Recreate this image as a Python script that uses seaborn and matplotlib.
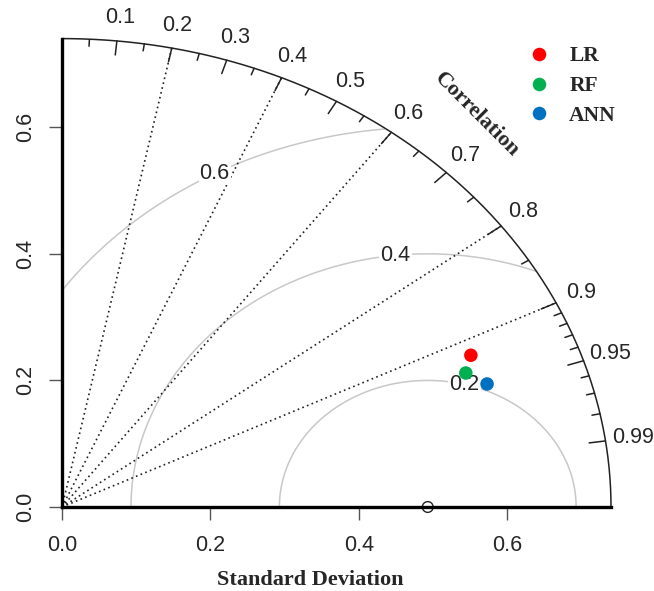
import numpy as np
import pandas as pd
import matplotlib
matplotlib.use("Agg")
import matplotlib.pyplot as plt
import seaborn as sns

# Data
models = ["LR", "RF", "ANN"]
std_devs = [0.601, 0.584, 0.605]
correlations = [0.917, 0.932, 0.947]
colors = ["#FF0000", "#00B050", "#0070C0"]

ref_sd = 0.493
max_sd = 0.74
rms_levels = [0.2, 0.4, 0.6]
corr_lines = [0.2, 0.4, 0.6, 0.8, 0.9]
corr_labels = [0.1, 0.2, 0.3, 0.4, 0.5, 0.6, 0.7, 0.8, 0.9, 0.95, 0.99]
corr_minor = [0.05, 0.15, 0.25, 0.35, 0.45, 0.55, 0.65, 0.75, 0.85,
              0.91, 0.92, 0.93, 0.94, 0.96, 0.97, 0.98]
sd_ticks = [0.0, 0.2, 0.4, 0.6]

SANS = "Liberation Sans"
SERIF = "Liberation Serif"
NUM_SIZE = 15.5

# %% Frame
df = pd.DataFrame({"model": models, "sd": std_devs, "corr": correlations})
df["x"] = df["sd"] * df["corr"]
df["y"] = df["sd"] * np.sqrt(1 - df["corr"] ** 2)

sns.set_style("white")
fig = plt.figure(figsize=(6.54, 5.91), dpi=100)
ax = fig.add_axes([62 / 654, 84 / 591, 549 / 654, 468.4 / 591])
ax.set_xlim(0, max_sd)
ax.set_ylim(0, max_sd)

# %% Grid of the diagram
theta = np.linspace(0, np.pi / 2, 300)
ax.plot(max_sd * np.cos(theta), max_sd * np.sin(theta), color="#222222", lw=1.1,
        clip_on=False, zorder=3)

for c in corr_lines:
    ang = np.arccos(c)
    ax.plot([0, max_sd * np.cos(ang)], [0, max_sd * np.sin(ang)], color="#222222",
            lw=1.2, ls=(0, (1, 2)), zorder=2)

for c in corr_labels:
    ang = np.arccos(c)
    ax.plot([max_sd * np.cos(ang), 0.97 * max_sd * np.cos(ang)],
            [max_sd * np.sin(ang), 0.97 * max_sd * np.sin(ang)], color="#222222", lw=1.1)
    ax.text(1.05 * max_sd * np.cos(ang), 1.05 * max_sd * np.sin(ang), f"{c:g}",
            ha="center", va="center", fontsize=NUM_SIZE, family=SANS, clip_on=False)
for c in corr_minor:
    ang = np.arccos(c)
    ax.plot([max_sd * np.cos(ang), 0.985 * max_sd * np.cos(ang)],
            [max_sd * np.sin(ang), 0.985 * max_sd * np.sin(ang)], color="#222222", lw=1.1)

# RMS arcs around the reference point
phi = np.linspace(0, np.pi, 600)
label_angles = [44 * 0.03, 56 * 0.03, 69 * 0.03]
for g, la in zip(rms_levels, label_angles):
    xs = ref_sd + g * np.cos(phi)
    ys = g * np.sin(phi)
    keep = (xs >= 0) & (xs ** 2 + ys ** 2 <= max_sd ** 2)
    ax.plot(xs[keep], ys[keep], color="#C8C8C8", lw=1.1, zorder=1)
    ax.text(ref_sd + g * np.cos(la), g * np.sin(la), f"{g:g}", ha="center", va="center",
            fontsize=NUM_SIZE, family=SANS, zorder=4,
            bbox=dict(boxstyle="square,pad=0.05", fc="white", ec="none"))

ax.text(0.559, 0.619, "Correlation", rotation=-45, ha="center", va="center",
        fontsize=16, fontweight="bold", family=SERIF)

# reference point
ax.scatter([ref_sd], [0], s=60, facecolor="none", edgecolor="#222222", lw=1.0,
           clip_on=False, zorder=5)

# %% Points
sns.scatterplot(data=df, x="x", y="y", hue="model", palette=dict(zip(models, colors)),
                s=95, edgecolor="none", ax=ax, zorder=6, clip_on=False)

leg = ax.legend(loc="upper left", bbox_to_anchor=(509 / 654, 1 - 27 / 591),
                bbox_transform=fig.transFigure, frameon=False, handlelength=1.0,
                handletextpad=0.9, labelspacing=0.45, markerscale=1.0,
                prop=dict(family=SERIF, weight="bold", size=15.5))

# %% Axes
sns.despine(ax=ax)
for side in ["left", "bottom"]:
    ax.spines[side].set_linewidth(2.4)
    ax.spines[side].set_color("black")
    ax.spines[side].set_zorder(7)
ax.set_xticks(sd_ticks)
ax.set_yticks(sd_ticks)
ax.set_xticklabels([f"{t:.1f}" for t in sd_ticks], family=SANS, fontsize=NUM_SIZE)
ax.set_yticklabels([f"{t:.1f}" for t in sd_ticks], family=SANS, fontsize=NUM_SIZE,
                   rotation=90, va="center")
ax.tick_params(direction="out", length=9.5, width=1.0, color="#555555", pad=11,
               bottom=True, left=True)
ax.tick_params(axis="y", pad=9)
ax.set_xlabel("Standard Deviation", family=SERIF, fontweight="bold", fontsize=16)
ax.xaxis.set_label_coords(0.452, -0.156)
ax.xaxis.label.set_va("center")
ax.set_ylabel("")

fig.savefig("out.png", dpi=100)
